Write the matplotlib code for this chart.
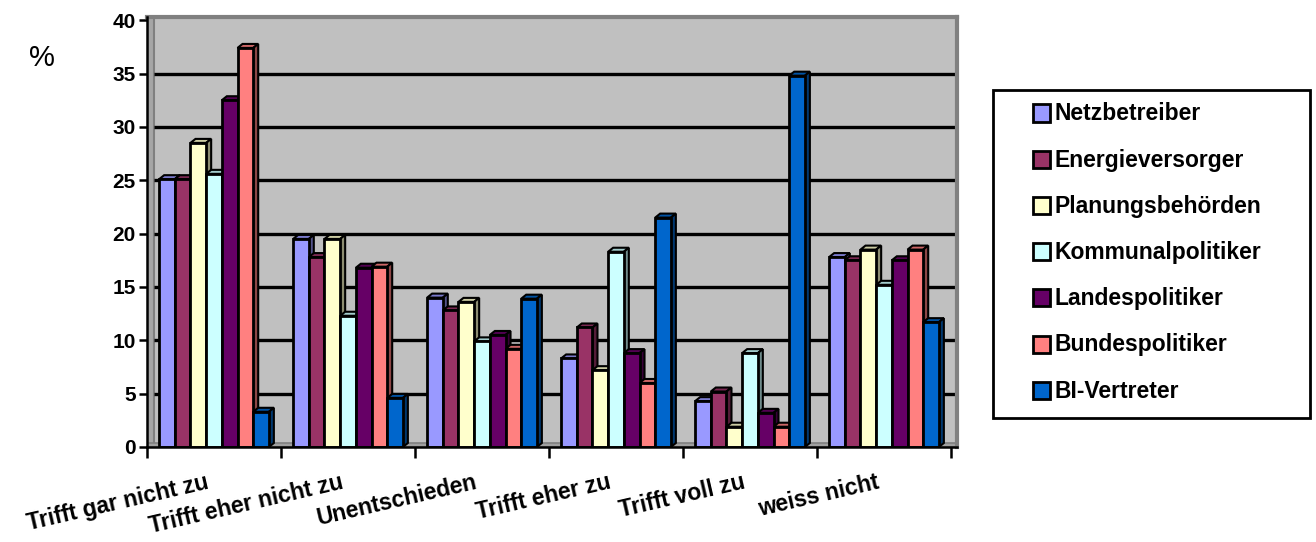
import matplotlib
matplotlib.use("Agg")
import matplotlib.pyplot as plt
from matplotlib.patches import Polygon, Rectangle
from matplotlib.transforms import ScaledTranslation
import matplotlib.colors as mcolors
import numpy as np

categories = ["Trifft gar nicht zu", "Trifft eher nicht zu", "Unentschieden",
              "Trifft eher zu", "Trifft voll zu", "weiss nicht"]
series_names = ["Netzbetreiber", "Energieversorger", "Planungsbehörden",
                "Kommunalpolitiker", "Landespolitiker", "Bundespolitiker", "BI-Vertreter"]
netzbetreiber = [25.1, 19.5, 14.0, 8.3, 4.3, 17.8]
energieversorger = [25.1, 17.8, 12.8, 11.2, 5.2, 17.5]
planungsbehoerden = [28.5, 19.5, 13.6, 7.2, 1.9, 18.5]
kommunalpolitiker = [25.6, 12.3, 9.9, 18.3, 8.8, 15.2]
landespolitiker = [32.5, 16.8, 10.5, 8.8, 3.2, 17.5]
bundespolitiker = [37.4, 16.9, 9.2, 6.0, 1.9, 18.5]
bi_vertreter = [3.3, 4.6, 13.9, 21.5, 34.8, 11.7]
series = [netzbetreiber, energieversorger, planungsbehoerden, kommunalpolitiker,
          landespolitiker, bundespolitiker, bi_vertreter]
colors = ["#9999FF", "#993366", "#FFFFCC", "#CCFFFF", "#660066", "#FF8080", "#0066CC"]
yticks = [0, 5, 10, 15, 20, 25, 30, 35, 40]

plt.rcParams['font.family'] = ['Liberation Sans', 'DejaVu Sans']

W, H = 1316, 542
fig = plt.figure(figsize=(W / 100, H / 100), dpi=100)
fig.patch.set_facecolor("white")

ax_l, ax_r, ax_t, ax_b = 147, 957, 17, 447
ax = fig.add_axes([ax_l / W, 1 - ax_b / H, (ax_r - ax_l) / W, (ax_b - ax_t) / H])
ncat = len(categories)
xmin, xmax = -0.5, ncat - 0.5 + 6 / 134
ymin, ymax = 0, (ax_b - ax_t) / 10.67
ax.set_xlim(xmin, xmax)
ax.set_ylim(ymin, ymax)
ax.set_facecolor("#C0C0C0")

pxx = (ax_r - ax_l) / (xmax - xmin)
pxy = (ax_b - ax_t) / (ymax - ymin)
dxd = 5 / pxx
dyd = 4 / pxy

# walls / floor
ax.add_patch(Rectangle((xmin, 0), 7 / pxx, ymax, facecolor="#A6A6A6",
                       edgecolor="#808080", lw=1.5, zorder=1))
ax.add_patch(Rectangle((xmin, 0), xmax - xmin, dyd, facecolor="#A0A0A0",
                       edgecolor="#808080", lw=1.2, zorder=1))
for yv in yticks[1:-1]:
    ax.plot([xmin + 7 / pxx, xmax], [yv, yv], color="black", lw=2.4, zorder=2,
            solid_capstyle="butt")

nser = len(series)
bw = 0.117
x = np.arange(ncat)


def shade(c, f):
    r, g, b = mcolors.to_rgb(c)
    return (r * f, g * f, b * f)


for i, (vals, col) in enumerate(zip(series, colors)):
    xs = x + (i - (nser - 1) / 2) * bw
    ax.bar(xs, vals, width=bw, color=col, edgecolor="black", lw=2.0,
           zorder=5, label=series_names[i])
    for xc, v in zip(xs, vals):
        x0, x1 = xc - bw / 2, xc + bw / 2
        ax.add_patch(Polygon([(x0, v), (x0 + dxd, v + dyd), (x1 + dxd, v + dyd), (x1, v)],
                             closed=True, facecolor=shade(col, 0.8),
                             edgecolor="black", lw=1.5, zorder=4))
        ax.add_patch(Polygon([(x1, 0), (x1, v), (x1 + dxd, v + dyd), (x1 + dxd, dyd)],
                             closed=True, facecolor=shade(col, 0.55),
                             edgecolor="black", lw=1.5, zorder=4))

for s in ["top", "right"]:
    ax.spines[s].set_color("#808080")
    ax.spines[s].set_linewidth(3)
for s in ["left", "bottom"]:
    ax.spines[s].set_color("black")
    ax.spines[s].set_linewidth(1.8)
    ax.spines[s].set_zorder(6)

ax.set_yticks(yticks)
ax.set_yticklabels([str(v) for v in yticks], fontsize=15, fontweight="bold")
ax.tick_params(axis="y", direction="out", length=6, width=1.8, pad=2)

ax.set_xticks(np.arange(-0.5, ncat, 1.0))
ax.set_xticklabels([])
ax.tick_params(axis="x", which="major", direction="out", length=8, width=1.8)
ax.set_xticks(x, minor=True)
ax.set_xticklabels(categories, minor=True, fontsize=16.5, fontweight="bold",
                   rotation=13, ha="right", rotation_mode="anchor", va="top")
ax.tick_params(axis="x", which="minor", length=0, pad=17)
shift = ScaledTranslation(-8 / 100, 0, fig.dpi_scale_trans)
for lab in ax.get_xticklabels(minor=True):
    lab.set_transform(lab.get_transform() + shift)

fig.text(42 / W, 1 - 58 / H, "%", fontsize=21, ha="center", va="center")

# legend (drawn manually to match the original box layout)
fig.patches.append(Rectangle((993 / W, 1 - 418 / H), (1310 - 993) / W, (418 - 90) / H,
                             transform=fig.transFigure, facecolor="white",
                             edgecolor="black", lw=2, zorder=3))
row0, drow = 113, 46.2
for i, (name, col) in enumerate(zip(series_names, colors)):
    yc = row0 + i * drow
    fig.patches.append(Rectangle((1033 / W, 1 - (yc + 8.5) / H), 17 / W, 17 / H,
                                 transform=fig.transFigure, facecolor=col,
                                 edgecolor="black", lw=2, zorder=4))
    fig.text(1055 / W, 1 - (yc + 1) / H, name, fontsize=16.5, fontweight="bold",
             ha="left", va="center", zorder=5)

fig.savefig("out.png", dpi=100)
